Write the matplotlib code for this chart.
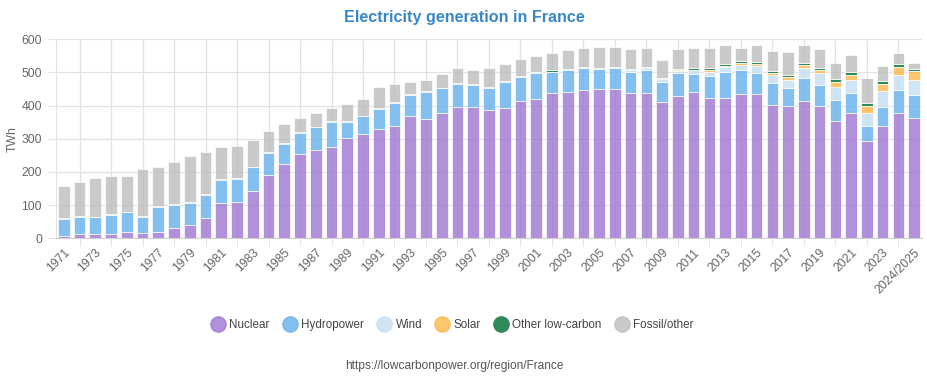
import matplotlib
matplotlib.use('Agg')
import matplotlib.pyplot as plt
from matplotlib.lines import Line2D
import numpy as np

plt.rcParams['font.family'] = ['Liberation Sans', 'DejaVu Sans']

# categories
years = ['1971', '1972', '1973', '1974', '1975', '1976', '1977', '1978', '1979', '1980',
         '1981', '1982', '1983', '1984', '1985', '1986', '1987', '1988', '1989', '1990',
         '1991', '1992', '1993', '1994', '1995', '1996', '1997', '1998', '1999', '2000',
         '2001', '2002', '2003', '2004', '2005', '2006', '2007', '2008', '2009', '2010',
         '2011', '2012', '2013', '2014', '2015', '2016', '2017', '2018', '2019', '2020',
         '2021', '2022', '2023', '2024', '2024/2025']

# TWh per source
nuclear = [8, 14, 14, 14, 18, 16, 18, 30, 40, 62,
           105, 108, 144, 192, 224, 254, 265, 276, 303, 314,
           331, 338, 368, 359, 377, 397, 395, 388, 394, 415,
           421, 437, 441, 448, 451, 450, 439, 439, 410, 429,
           442, 424, 423, 436, 436, 403, 400, 413, 400, 354,
           379, 294, 339, 379, 364]
hydro = [51, 50, 49, 57, 60, 49, 77, 70, 67, 69,
         72, 71, 70, 65, 61, 63, 70, 75, 47, 54,
         59, 69, 65, 81, 75, 68, 66, 65, 77, 72,
         78, 65, 65, 66, 58, 62, 63, 68, 62, 68,
         52, 65, 78, 70, 62, 66, 54, 71, 61, 63,
         60, 46, 56, 69, 68]
wind = [0, 0, 0, 0, 0, 0, 0, 0, 0, 0,
        0, 0, 0, 0, 0, 0, 0, 0, 0, 0,
        0, 0, 0, 0, 0, 0, 0, 0, 0, 0,
        0, 0, 0, 0, 1, 2, 4, 5, 7, 8,
        12, 13, 16, 16, 21, 22, 24, 30, 36, 39,
        38, 39, 49, 44, 45]
solar = [0, 0, 0, 0, 0, 0, 0, 0, 0, 0,
         0, 0, 0, 0, 0, 0, 0, 0, 0, 0,
         0, 0, 0, 0, 0, 0, 0, 0, 0, 0,
         0, 0, 0, 0, 0, 0, 0, 0, 0, 1,
         2, 5, 4, 6, 7, 7, 8, 9, 10, 14,
         14, 20, 20, 24, 28]
other_low = [2, 2, 2, 2, 2, 2, 2, 2, 2, 2,
             2, 2, 2, 2, 2, 2, 2, 2, 3, 2,
             2, 3, 2, 3, 2, 3, 3, 2, 2, 2,
             3, 4, 4, 3, 4, 4, 4, 4, 4, 4,
             4, 5, 5, 6, 6, 6, 6, 7, 7, 9,
             10, 10, 11, 10, 5]
fossil = [96, 105, 118, 115, 108, 142, 119, 128, 138, 128,
          97, 97, 80, 65, 58, 45, 42, 39, 52, 51,
          63, 54, 37, 33, 41, 44, 42, 57, 54, 52,
          48, 54, 57, 58, 63, 58, 60, 58, 54, 60,
          62, 62, 57, 40, 50, 61, 70, 53, 57, 50,
          52, 74, 44, 32, 19]

series = [
    ('Nuclear', nuclear, '#9f76d2', 0.8),
    ('Hydropower', hydro, '#66b1ec', 0.8),
    ('Wind', wind, '#c3dff4', 0.8),
    ('Solar', solar, '#feb74b', 0.8),
    ('Other low-carbon', other_low, '#2e8b57', 1.0),
    ('Fossil/other', fossil, '#bdbdbd', 0.8),
]

grid_c = '#e2e2e2'
text_c = '#666666'

fig = plt.figure(figsize=(9.28, 3.82), dpi=100)
ax = fig.add_axes([0.0603, 0.3762, 0.9332, 0.5209])

x = np.arange(len(years))
bottom = np.zeros(len(years))
for name, vals, col, a in series:
    vals = np.array(vals, dtype=float)
    ax.bar(x, vals, 0.74, bottom=bottom, color=col, alpha=a,
           edgecolor='white', linewidth=0.6, zorder=2)
    bottom += vals

ax.set_xlim(-0.5, len(years) - 0.5)
ax.set_ylim(0, 600)
ax.set_yticks(range(0, 601, 100))
ax.grid(axis='y', color=grid_c, linewidth=0.9, zorder=0)

# labels on every other year plus the last one, grid on the years between
lab_idx = list(range(0, len(years) - 1, 2)) + [len(years) - 1]
ax.set_xticks(lab_idx)
ax.set_xticklabels([years[i] for i in lab_idx], rotation=45, ha='right',
                   rotation_mode='anchor')
grid_idx = list(range(1, len(years) - 1, 2))
ax.set_xticks(grid_idx, minor=True)
ax.grid(axis='x', which='minor', color=grid_c, linewidth=0.9, zorder=0)
ax.tick_params(axis='x', which='major', length=0, pad=6, labelsize=8.8, labelcolor=text_c)
ax.tick_params(axis='x', which='minor', length=6, color=grid_c)
ax.tick_params(axis='y', length=6, color=grid_c, pad=4, labelsize=8.8, labelcolor=text_c)

for s in ['top', 'right']:
    ax.spines[s].set_visible(False)
ax.spines['left'].set_color(grid_c)
ax.spines['bottom'].set_color('#d0d0d0')
ax.set_ylabel('TWh', color=text_c, fontsize=8.8, labelpad=2)

fig.text(0.5, 0.953, 'Electricity generation in France', ha='center', va='center',
         fontsize=11.6, fontweight='bold', color='#3a87c8')

handles = [Line2D([0], [0], marker='o', linestyle='', markersize=11,
                  markerfacecolor=col, markeredgecolor=col, alpha=a)
           for name, vals, col, a in series]
fig.legend(handles, [s[0] for s in series], loc='center', bbox_to_anchor=(0.488, 0.149),
           ncol=6, frameon=False, fontsize=8.4, handlelength=1.0, handletextpad=0.5,
           columnspacing=1.2, labelcolor='#444444')

fig.text(0.49, 0.042, 'https://lowcarbonpower.org/region/France', ha='center', va='center',
         fontsize=8.6, color='#555555')

fig.savefig('out.png', dpi=100)
